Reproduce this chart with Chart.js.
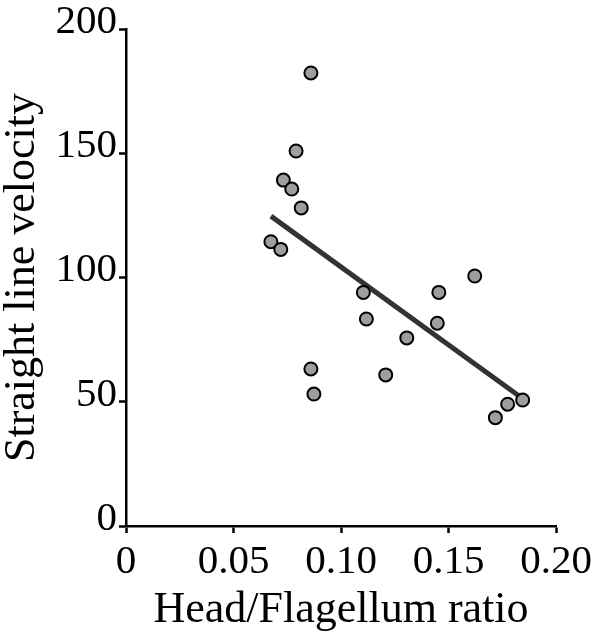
<!DOCTYPE html>
<html>
<head>
<meta charset="utf-8">
<script src="https://cdn.jsdelivr.net/npm/chart.js@4.4.1/dist/chart.umd.min.js"></script>
<style>
  html, body { margin: 0; padding: 0; background: #fff; }
  #wrap { width: 600px; height: 639px; }
</style>
</head>
<body>
<div id="wrap"><canvas id="myChart" width="600" height="639"></canvas></div>
<script>
// 데이터
const ratioX = [0.0860, 0.0791, 0.0732, 0.0771, 0.0815, 0.0674, 0.0720, 0.1104, 0.1455, 0.1622,
                0.1118, 0.1448, 0.1306, 0.0860, 0.1208, 0.0874, 0.1845, 0.1775, 0.1718];
const velocityY = [182.3, 150.9, 139.2, 135.6, 128.0, 114.4, 111.3, 94.0, 94.0, 100.6,
                   83.3, 81.6, 75.7, 63.2, 60.8, 53.1, 50.7, 49.0, 43.6];
// 회귀선 양 끝
const fitX = [0.0674, 0.1833];
const fitY = [124.7, 52.0];
// 눈금 라벨
const xTickLabels = ['0', '0.05', '0.10', '0.15', '0.20'];
const yTickLabels = ['0', '50', '100', '150', '200'];

const serif = 'Liberation Serif';

let ctx = document.getElementById('myChart');

let config = {
  type: 'scatter',
  data: {
    datasets: [{
      data: ratioX.map((x, i) => ({x: x, y: velocityY[i]})),
      backgroundColor: '#9e9e9e',
      borderColor: '#000',
      borderWidth: 2,
      pointRadius: 6.5,
      order: 0
    }, {
      type: 'line',
      data: fitX.map((x, i) => ({x: x, y: fitY[i]})),
      borderColor: '#333',
      borderWidth: 5,
      pointRadius: 0,
      fill: false,
      order: 1
    }]
  },
  options: {
    responsive: false,
    animation: false,
    layout: {
      padding: {top: 29, right: 44, left: 0, bottom: 0}
    },
    plugins: {
      legend: {display: false},
      tooltip: {enabled: false}
    },
    scales: {
      x: {
        type: 'linear',
        min: 0,
        max: 0.2,
        afterFit: (scale) => { scale.height = 113; },
        border: {color: '#000', width: 2.5},
        grid: {
          drawOnChartArea: false,
          drawTicks: true,
          tickLength: 7,
          tickWidth: 2.5,
          tickColor: '#000'
        },
        ticks: {
          stepSize: 0.05,
          color: '#000',
          padding: 5,
          maxRotation: 0,
          font: {family: serif, size: 41},
          callback: (v, i) => xTickLabels[i]
        },
        title: {
          display: true,
          text: 'Head/Flagellum ratio',
          color: '#000',
          font: {family: serif, size: 44},
          padding: {top: 0, bottom: 2}
        }
      },
      y: {
        min: 0,
        max: 200,
        afterFit: (scale) => { scale.width = 126; },
        border: {color: '#000', width: 2.5},
        grid: {
          drawOnChartArea: false,
          drawTicks: true,
          tickLength: 7,
          tickWidth: 2.5,
          tickColor: '#000'
        },
        ticks: {
          stepSize: 50,
          color: '#000',
          padding: 2,
          labelOffset: -7,
          font: {family: serif, size: 41},
          callback: (v, i) => yTickLabels[i]
        },
        title: {
          display: true,
          text: 'Straight line velocity',
          color: '#000',
          font: {family: serif, size: 44},
          padding: {top: -4, bottom: 0}
        }
      }
    }
  }
};

let myChart = new Chart(ctx, config);
</script>
</body>
</html>
